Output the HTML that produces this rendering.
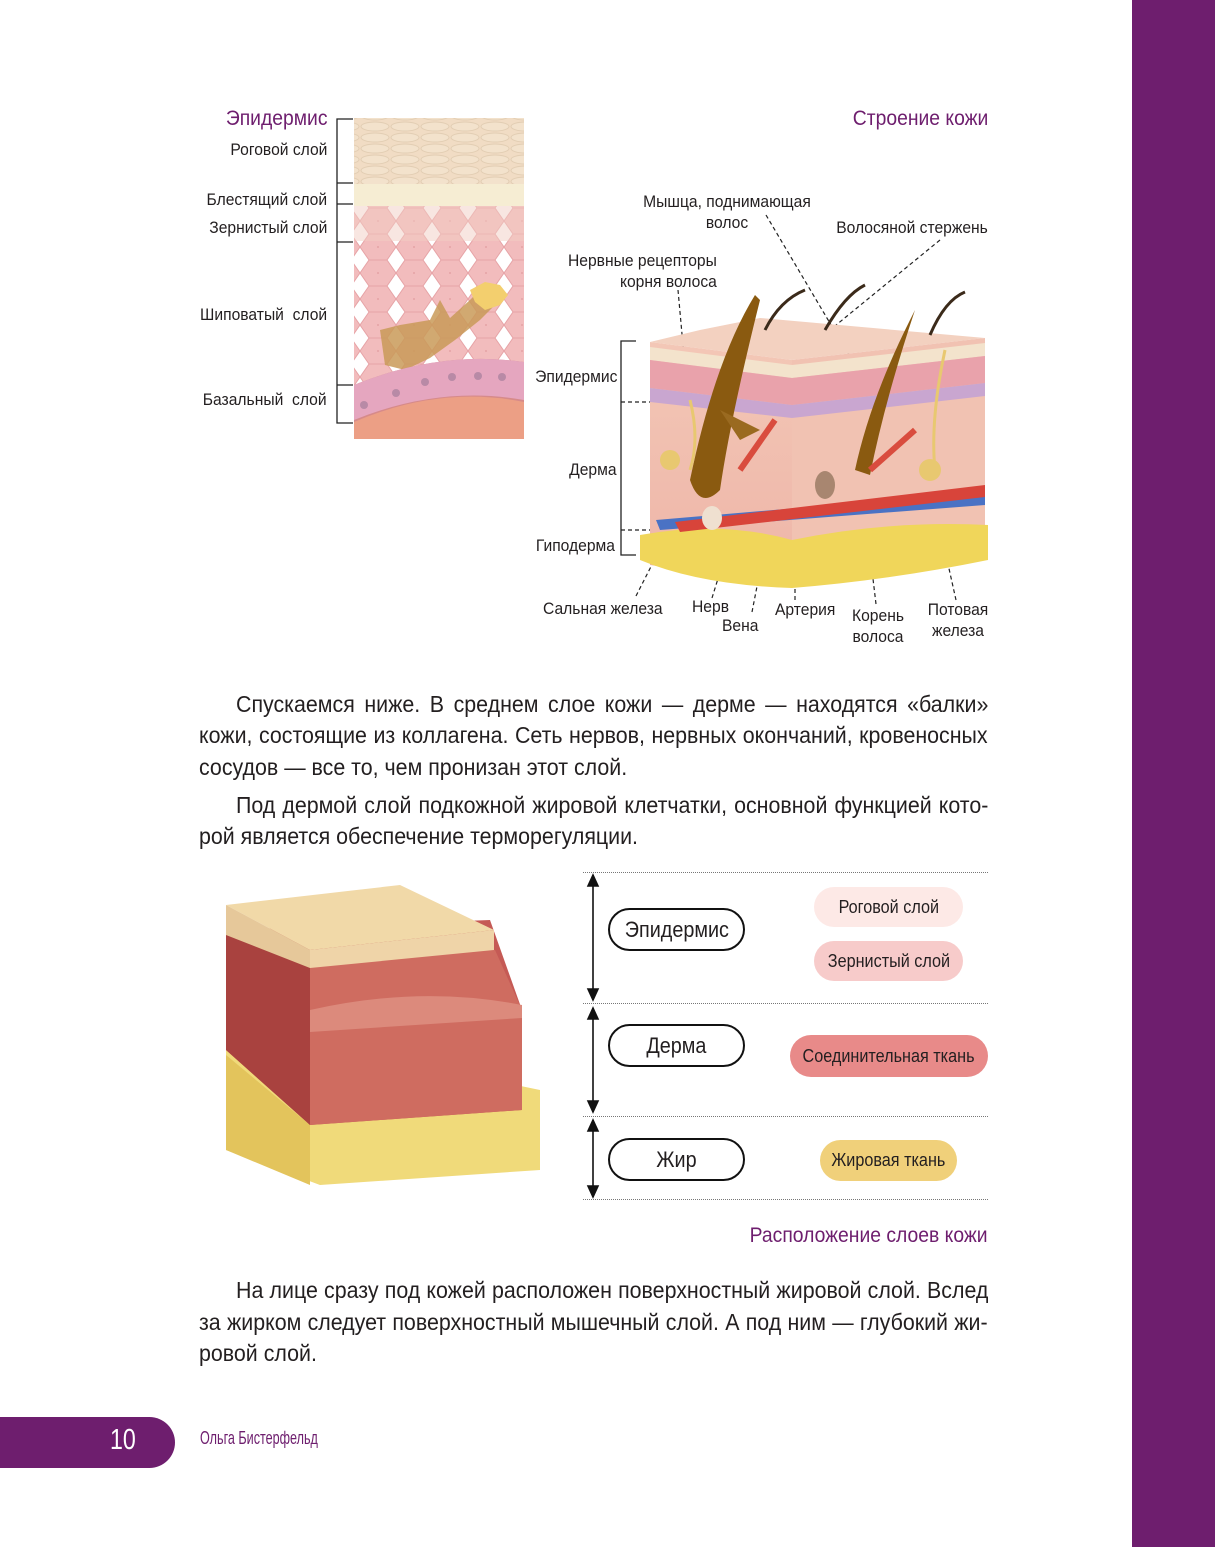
<!DOCTYPE html>
<html><head><meta charset="utf-8">
<style>
body{margin:0;width:1215px;height:1547px;position:relative;background:#fff;overflow:hidden;font-family:"Liberation Sans",sans-serif;color:#231f20}
.a{position:absolute;white-space:nowrap}
.n{transform:scaleX(.92);transform-origin:left top}
.r{transform:scaleX(.92);transform-origin:right top;text-align:right}
.c{transform:scaleX(.92);transform-origin:center top;text-align:center}
.l{font-size:17px;color:#231f20}
.p{color:#6e1e6e}
.bl{position:absolute;left:199px;width:848px;font-size:23px;height:31px;line-height:31px;text-align:justify;text-align-last:justify;transform:scaleX(.93);transform-origin:left top;white-space:nowrap}
.bl.i{left:236px;width:809px}
.bl.e{text-align-last:left}
.pill{position:absolute;border-radius:22px;display:flex;align-items:center;justify-content:center}
.pill span{display:inline-block;transform:scaleX(.9);white-space:nowrap}
.ob{border:2px solid #111;background:#fff;font-size:22px;box-sizing:border-box}
.dot{position:absolute;left:583px;width:405px;border-top:1.5px dotted #777}
</style></head><body>
<div class="a" style="left:1132px;top:0;width:83px;height:1547px;background:#6e1e6e"></div>
<div class="a" style="left:0;top:1417px;width:175px;height:51px;background:#6e1e6e;border-radius:0 26px 26px 0"></div>
<div class="a" style="left:110px;top:1424px;font-size:29px;color:#fff;transform:scaleX(.8);transform-origin:left top">10</div>
<div class="a p" style="left:200px;top:1428px;font-size:18px;transform:scaleX(.7);transform-origin:left top">Ольга Бистерфельд</div>

<!-- top-left labels -->
<div class="a r p" style="right:888px;top:107px;font-size:21px">Эпидермис</div>
<div class="a r l" style="right:888px;top:140px">Роговой слой</div>
<div class="a r l" style="right:888px;top:190px">Блестящий слой</div>
<div class="a r l" style="right:888px;top:218px">Зернистый слой</div>
<div class="a r l" style="right:888px;top:305px">Шиповатый&nbsp; слой</div>
<div class="a r l" style="right:888px;top:390px">Базальный&nbsp; слой</div>
<svg class="a" style="left:0;top:0" width="1215" height="1547">
<defs>
<pattern id="sc" width="30" height="11" patternUnits="userSpaceOnUse"><ellipse cx="15" cy="5.5" rx="14" ry="4.5" fill="#f3e2cc" stroke="#e2cdb3"/></pattern>
<pattern id="cel" width="36" height="26" patternUnits="userSpaceOnUse"><path d="M0 13L9 0H27L36 13L27 26H9Z" stroke="#e6a3a6" fill="#f2bcbd"/><circle cx="18" cy="13" r="1" fill="#e6a3a6"/></pattern>
<linearGradient id="fl" x1="0" x2="0" y1="0" y2="1"><stop offset="0" stop-color="#f3c7b6"/><stop offset="1" stop-color="#eeb5a8"/></linearGradient>
</defs>
<g stroke="#222" stroke-width="1.3" fill="none">
<path d="M353 119H337V423H353M337 183H353M337 204H353M337 242H353M337 385H353"/>
<path d="M636 341H621V555H636"/>
</g>
<g stroke="#222" stroke-width="1.2" fill="none" stroke-dasharray="4 3">
<path d="M621 402H655M621 530H655"/>
<path d="M678 290L697 500M766 215L905 450M940 240L830 330M636 596L690 490M712 598L733 530M752 612L768 530M795 600V530M876 604L860 470M956 600L927 470"/>
</g>
<rect x="354" y="118" width="170" height="66" fill="#f1dcc4"/>
<rect x="354" y="118" width="170" height="66" fill="url(#sc)"/>
<rect x="354" y="184" width="170" height="22" fill="#f6edd3"/>
<rect x="354" y="206" width="170" height="180" fill="url(#cel)"/>
<rect x="354" y="206" width="170" height="35" fill="#f2cdc4" opacity=".5"/>
<path d="M380 330L400 325L430 320L440 300L450 318L470 300L480 290L500 300L480 320L455 340L430 358L405 370L385 365Z" fill="#c99a58" opacity=".85"/>
<path d="M470 290L485 282L500 285L508 295L500 305L485 310L475 302Z" fill="#f3cf6e"/>
<path d="M354 385Q440 350 524 362V439H354Z" fill="#d68a8a"/>
<path d="M354 385Q440 350 524 362V400Q440 385 354 420Z" fill="#e5a6bf"/>
<g fill="#b88aa6"><circle cx="364" cy="405" r="4"/><circle cx="396" cy="393" r="4"/><circle cx="425" cy="382" r="4"/><circle cx="452" cy="377" r="4"/><circle cx="478" cy="376" r="4"/><circle cx="502" cy="377" r="4"/></g>
<path d="M354 422Q440 385 524 402V439H354Z" fill="#ec9f85"/>
<!-- 3D skin block -->
<path d="M650 342L700 330L760 318L985 338L792 360Z" fill="#f3d1c0"/>
<path d="M650 342L792 360V585L650 565Z" fill="url(#fl)"/>
<path d="M792 360L985 338V560L792 585Z" fill="#f1c2b2"/>
<path d="M650 347L792 365V378L650 360ZM792 365L985 343V356L792 378Z" fill="#f3e3cc"/>
<path d="M650 360L792 378V405L650 388Z" fill="#e9a2ab"/>
<path d="M792 378L985 356V383L792 405Z" fill="#e9a2ab"/>
<path d="M650 388L792 405V418L650 402ZM792 405L985 383V396L792 418Z" fill="#c9a6d0"/>
<path d="M640 535Q720 520 792 540Q890 520 988 525V560Q890 580 792 588Q700 585 640 560Z" fill="#f0d65a"/>
<path d="M656 520L985 492V505L660 530Z" fill="#4a72c4"/>
<path d="M675 522L985 485V497L680 532Z" fill="#d8443a"/>
<path d="M755 295Q715 360 690 480Q700 510 720 490Q730 420 760 300Z" fill="#8a5a10"/>
<path d="M720 410L740 440L760 430Z" fill="#9a6a20"/>
<path d="M910 320Q870 400 855 470L870 475Q885 400 915 310Z" fill="#8a5a10"/>
<path d="M740 470L775 420M870 470L915 430" stroke="#d94c3e" stroke-width="6" fill="none"/>
<path d="M690 400Q700 440 690 470M945 350Q930 420 935 470" stroke="#e8c870" stroke-width="3" fill="none"/>
<circle cx="670" cy="460" r="10" fill="#e8c870"/><circle cx="930" cy="470" r="11" fill="#e8c870"/>
<ellipse cx="825" cy="485" rx="10" ry="14" fill="#a88670"/><ellipse cx="712" cy="518" rx="10" ry="12" fill="#efe0d0"/>
<g stroke="#3b2a1a" stroke-width="3" fill="none"><path d="M765 330Q780 300 805 290M825 330Q845 295 865 285M930 335Q945 300 965 292"/></g>
</svg>
<div class="a r p" style="right:227px;top:107px;font-size:21px">Строение кожи</div>
<div class="a c l" style="left:627px;width:200px;top:191px;line-height:21px">Мышца, поднимающая<br>волос</div>
<div class="a r l" style="right:227px;top:218px">Волосяной стержень</div>
<div class="a r l" style="right:498px;top:250px;line-height:21px">Нервные рецепторы<br>корня волоса</div>
<div class="a r l" style="right:598px;top:367px">Эпидермис</div>
<div class="a r l" style="right:598px;top:460px">Дерма</div>
<div class="a r l" style="right:600px;top:536px">Гиподерма</div>
<div class="a n l" style="left:543px;top:599px">Сальная железа</div>
<div class="a n l" style="left:692px;top:597px">Нерв</div>
<div class="a n l" style="left:722px;top:616px">Вена</div>
<div class="a n l" style="left:775px;top:600px">Артерия</div>
<div class="a c l" style="left:838px;width:80px;top:605px;line-height:21px">Корень<br>волоса</div>
<div class="a c l" style="left:918px;width:80px;top:599px;line-height:21px">Потовая<br>железа</div>

<div class="bl i" style="top:689px">Спускаемся ниже. В среднем слое кожи — дерме — находятся «балки»</div>
<div class="bl" style="top:720px">кожи, состоящие из коллагена. Сеть нервов, нервных окончаний, кровеносных</div>
<div class="bl e" style="top:752px">сосудов — все то, чем пронизан этот слой.</div>
<div class="bl i" style="top:790px">Под дермой слой подкожной жировой клетчатки, основной функцией кото-</div>
<div class="bl e" style="top:821px">рой является обеспечение терморегуляции.</div>

<svg class="a" style="left:0;top:0" width="1215" height="1547">
<path d="M226 1050L300 1040L540 1090V1170L320 1185L226 1150Z" fill="#f0da7a"/>
<path d="M226 1055L310 1125V1185L226 1150Z" fill="#e3c45c"/>
<path d="M226 930L490 920L522 1010V1110L310 1125L226 1050Z" fill="#c55a55"/>
<path d="M226 930L310 960V1125L226 1050Z" fill="#a9423f"/>
<path d="M310 960L495 950L522 1010V1110L310 1125Z" fill="#cf6c60"/>
<path d="M310 1010Q420 985 522 1005V1018L310 1032Z" fill="#dc8a7c"/>
<path d="M226 905L400 885L494 930L310 950Z" fill="#f1d9a8"/>
<path d="M226 905L310 950V968L226 935Z" fill="#e6c89a"/>
<path d="M310 950L494 930V950L310 968Z" fill="#efd4a8"/>
<g stroke="#111" stroke-width="1.6" fill="#111">
<path d="M593 875V1000M593 1008V1112M593 1120V1197" fill="none"/>
<path d="M588 886L593 875L598 886ZM588 989L593 1000L598 989ZM588 1019L593 1008L598 1019ZM588 1101L593 1112L598 1101ZM588 1131L593 1120L598 1131ZM588 1186L593 1197L598 1186Z"/>
</g>
</svg>
<div class="dot" style="top:872px"></div>
<div class="dot" style="top:1003px"></div>
<div class="dot" style="top:1116px"></div>
<div class="dot" style="top:1199px"></div>
<div class="pill ob" style="left:608px;top:908px;width:137px;height:43px"><span>Эпидермис</span></div>
<div class="pill ob" style="left:608px;top:1024px;width:137px;height:43px"><span>Дерма</span></div>
<div class="pill ob" style="left:608px;top:1138px;width:137px;height:43px"><span>Жир</span></div>
<div class="pill" style="left:814px;top:887px;width:149px;height:40px;background:#fde9e6;font-size:18px"><span>Роговой слой</span></div>
<div class="pill" style="left:814px;top:941px;width:149px;height:40px;background:#f7cbca;font-size:18px"><span>Зернистый слой</span></div>
<div class="pill" style="left:790px;top:1035px;width:198px;height:42px;background:#e88a89;font-size:18px"><span>Соединительная ткань</span></div>
<div class="pill" style="left:820px;top:1140px;width:137px;height:41px;background:#f0d07a;font-size:18px"><span>Жировая ткань</span></div>
<div class="a r p" style="right:227px;top:1224px;font-size:21px">Расположение слоев кожи</div>

<div class="bl i" style="top:1275px">На лице сразу под кожей расположен поверхностный жировой слой. Вслед</div>
<div class="bl" style="top:1307px">за жирком следует поверхностный мышечный слой. А под ним — глубокий жи-</div>
<div class="bl e" style="top:1338px">ровой слой.</div>
</body></html>
